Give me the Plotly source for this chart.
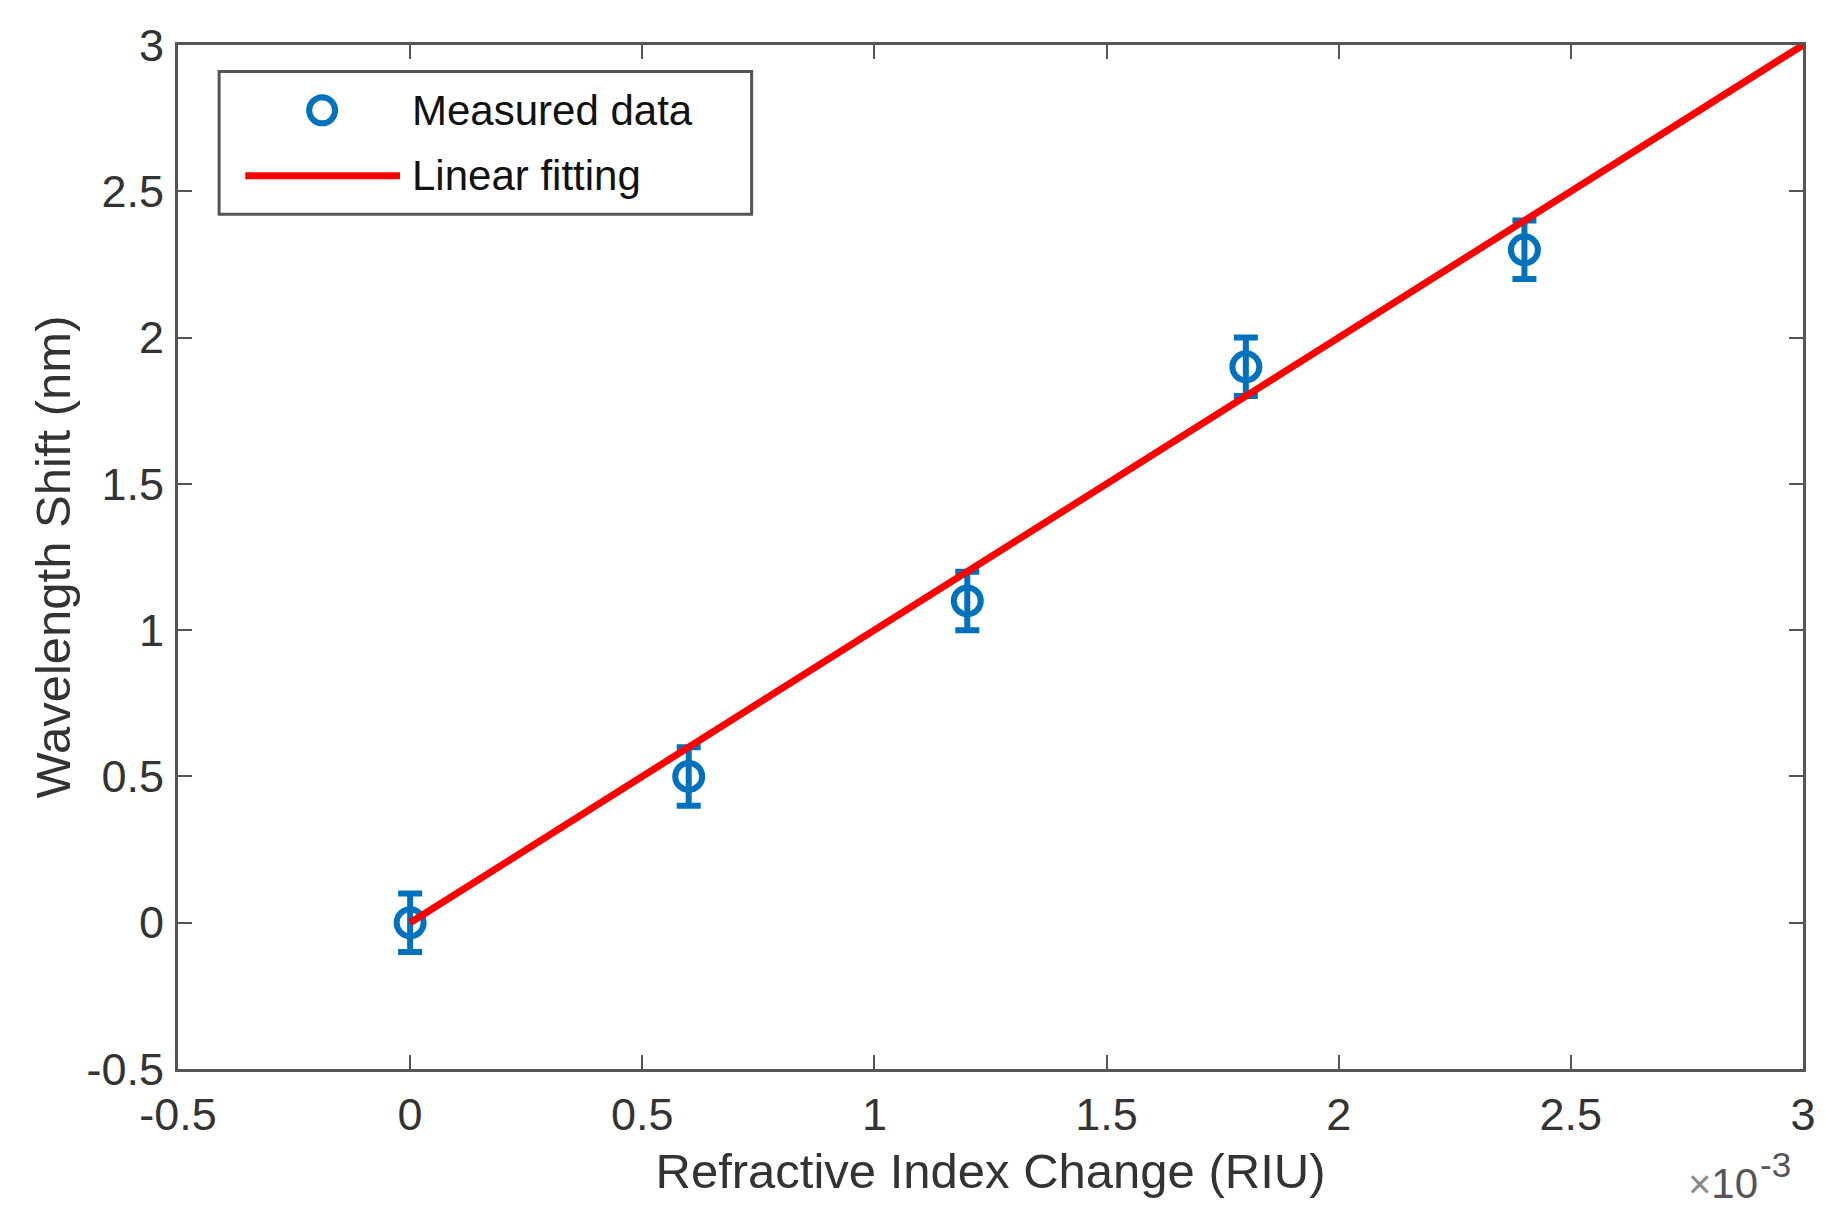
import plotly.graph_objects as go

# Data (refractive index change in RIU, wavelength shift in nm)
riu_change = [0.0, 0.0006, 0.0012, 0.0018, 0.0024]
wavelength_shift = [0.0, 0.5, 1.1, 1.9, 2.3]
shift_error = [0.1, 0.1, 0.1, 0.1, 0.1]

fit_riu = [0.0, 0.003]
fit_shift = [0.0, 3.0]

x_tick_vals = [-0.0005, 0.0, 0.0005, 0.001, 0.0015, 0.002, 0.0025, 0.003]
x_tick_text = ["-0.5", "0", "0.5", "1", "1.5", "2", "2.5", "3"]
y_tick_vals = [-0.5, 0, 0.5, 1, 1.5, 2, 2.5, 3]
y_tick_text = ["-0.5", "0", "0.5", "1", "1.5", "2", "2.5", "3"]

legend_labels = ["Measured data", "Linear fitting"]

BLUE = "#0072BD"
RED = "#FF0000"
AXC = "#555555"
TXT = "#333333"
FONT = "Liberation Sans"

fig = go.Figure()
fig.add_trace(go.Scatter(
    x=riu_change, y=wavelength_shift, mode="markers", name=legend_labels[0],
    marker=dict(symbol="circle-open", size=27, color=BLUE, line=dict(width=6, color=BLUE)),
    error_y=dict(type="data", array=shift_error, visible=True, color=BLUE, thickness=6, width=12),
))
fig.add_trace(go.Scatter(
    x=fit_riu, y=fit_shift, mode="lines", name=legend_labels[1],
    line=dict(color=RED, width=7),
))

axis_common = dict(
    showgrid=False, zeroline=False, showline=True, linecolor=AXC, linewidth=3,
    mirror="ticks", ticks="inside", ticklen=14, tickwidth=2, tickcolor=AXC,
    tickfont=dict(family=FONT, size=45, color=TXT),
    ticklabeloverflow="allow",
)

fig.update_layout(
    width=1826, height=1217,
    margin=dict(l=170, r=31, t=27, b=156),
    paper_bgcolor="white", plot_bgcolor="white",
    font=dict(family=FONT, color=TXT),
    xaxis=dict(range=[-0.0005, 0.003], tickvals=x_tick_vals, ticktext=x_tick_text,
               ticklabelstandoff=4,
               title=dict(text="Refractive Index Change (RIU)", font=dict(family=FONT, size=49, color=TXT), standoff=15),
               **axis_common),
    yaxis=dict(range=[-0.5, 3], tickvals=y_tick_vals, ticktext=y_tick_text,
               ticklabelstandoff=2,
               title=dict(text="Wavelength Shift (nm)", font=dict(family=FONT, size=49, color=TXT), standoff=1),
               **axis_common),
    showlegend=False,
)

# Legend box (drawn in paper coordinates)
fig.add_shape(type="rect", xref="paper", yref="paper", x0=0.0253, x1=0.353, y0=0.8346, y1=0.974,
              line=dict(color=AXC, width=3), fillcolor="white", layer="above")
fig.add_shape(type="circle", xref="paper", yref="paper", xsizemode="pixel", ysizemode="pixel",
              xanchor=0.0887, yanchor=0.9362, x0=-13, x1=13, y0=-13, y1=13,
              line=dict(color=BLUE, width=6), layer="above")
fig.add_shape(type="line", xref="paper", yref="paper", x0=0.0414, x1=0.1366, y0=0.8723, y1=0.8723,
              line=dict(color=RED, width=7), layer="above")
for lbl, yy in zip(legend_labels, [0.9362, 0.8723]):
    fig.add_annotation(xref="paper", yref="paper", x=0.1427, y=yy, xanchor="left", yanchor="middle",
                       text=lbl, showarrow=False, font=dict(family=FONT, size=42, color="#111111"))

# x-axis exponent label
fig.add_annotation(
    xref="paper", yref="paper", x=1.0, y=0.0, xanchor="right", yanchor="middle",
    xshift=-43, yshift=-114,
    text="<span style='font-size:40px;color:#888888'>×</span>10", showarrow=False,
    font=dict(family=FONT, size=42, color="#555555"),
)
fig.add_annotation(
    xref="paper", yref="paper", x=1.0, y=0.0, xanchor="left", yanchor="middle",
    xshift=-45, yshift=-95,
    text="-3", showarrow=False,
    font=dict(family=FONT, size=35, color="#555555"),
)

fig.write_html("out.html")
